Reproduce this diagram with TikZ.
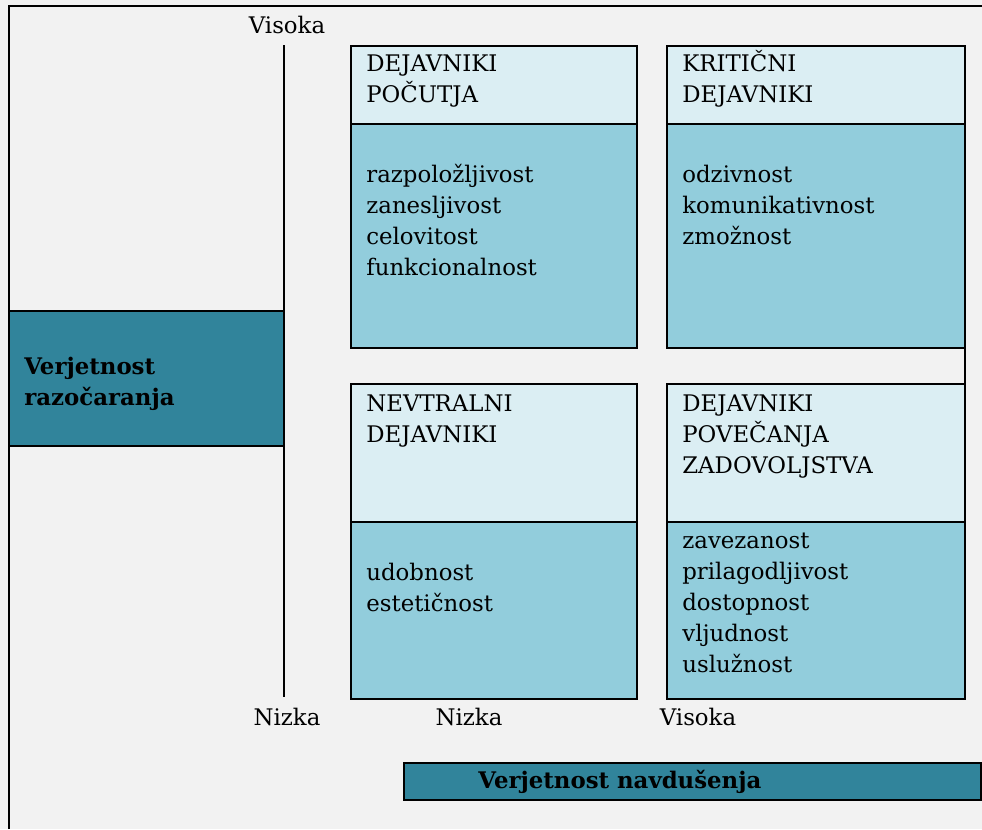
\documentclass[tikz,border=0pt]{standalone}
\usepackage{fontspec}
\setmainfont{DejaVu Serif}
\definecolor{tealdark}{HTML}{31849B}
\definecolor{headlight}{HTML}{DBEEF3}
\definecolor{bodymid}{HTML}{92CDDC}
\definecolor{pagegray}{HTML}{F2F2F2}

\begin{document}
\begin{tikzpicture}[x=0.02cm, y=-0.02cm,
    txt/.style={inner sep=0pt, anchor=base west, align=left, font=\fontsize{13}{17.6}\selectfont},
    boldtxt/.style={txt, font=\fontsize{13}{17.6}\selectfont\bfseries},
    axlbl/.style={inner sep=0pt, anchor=base, font=\fontsize{13}{17.6}\selectfont},
    hdr/.style={draw=black, line width=0.85pt, fill=headlight},
    body/.style={draw=black, line width=0.85pt, fill=bodymid},
    band/.style={draw=black, line width=0.85pt, fill=tealdark}]
    \useasboundingbox [fill=pagegray] (0,0) rectangle (982,829);
    % okvir
    \draw [line width=1.1pt] (9,829) -- (9,6) -- (982,6);
    % os verjetnosti razocaranja
    \draw [band] (9,311) rectangle (284,446);
    \coordinate (axtop) at (284,45);
    \coordinate (axbot) at (284,697);
    \draw [line width=0.8pt] (axtop) -- (axbot);
    % stirje kvadranti
    \draw [body] (351,124) rectangle (637,348);
    \draw [hdr]  (351,46)  rectangle (637,124);
    \draw [body] (667,124) rectangle (965,348);
    \draw [hdr]  (667,46)  rectangle (965,124);
    \draw [body] (351,522) rectangle (637,699);
    \draw [hdr]  (351,384) rectangle (637,522);
    \draw [body] (667,522) rectangle (965,699);
    \draw [hdr]  (667,384) rectangle (965,522);
    \coordinate (kritbr) at (965,348);
    \coordinate (zadtr) at (965,384);
    \draw [line width=0.85pt] (kritbr) -- (zadtr);
    % os verjetnosti navdusenja
    \draw [band] (404,763) rectangle (981,800);
    % besedila (base = zadnja vrstica)
    \node (visokaY) [axlbl] at (287,33) {Visoka};
    \node (nizkaY)  [axlbl] at (287,725) {Nizka};
    \node (nizkaX)  [axlbl] at (469,725) {Nizka};
    \node (visokaX) [axlbl] at (698,725) {Visoka};
    \node (razoc)  [boldtxt] at (24,405) {Verjetnost\\razočaranja};
    \node (navdus) [boldtxt] at (478,788) {Verjetnost navdušenja};
    \node (pocutjaH) [txt] at (366,102) {DEJAVNIKI\\POČUTJA};
    \node (pocutjaB) [txt] at (366,275) {razpoložljivost\\zanesljivost\\celovitost\\funkcionalnost};
    \node (kriticniH) [txt] at (682,102) {KRITIČNI\\DEJAVNIKI};
    \node (kriticniB) [txt] at (682,244) {odzivnost\\komunikativnost\\zmožnost};
    \node (nevtralniH) [txt] at (366,442) {NEVTRALNI\\DEJAVNIKI};
    \node (nevtralniB) [txt] at (366,611) {udobnost\\estetičnost};
    \node (zadovH) [txt] at (682,473) {DEJAVNIKI\\POVEČANJA\\ZADOVOLJSTVA};
    \node (zadovB) [txt] at (682,672) {zavezanost\\prilagodljivost\\dostopnost\\vljudnost\\uslužnost};
\end{tikzpicture}
\end{document}
